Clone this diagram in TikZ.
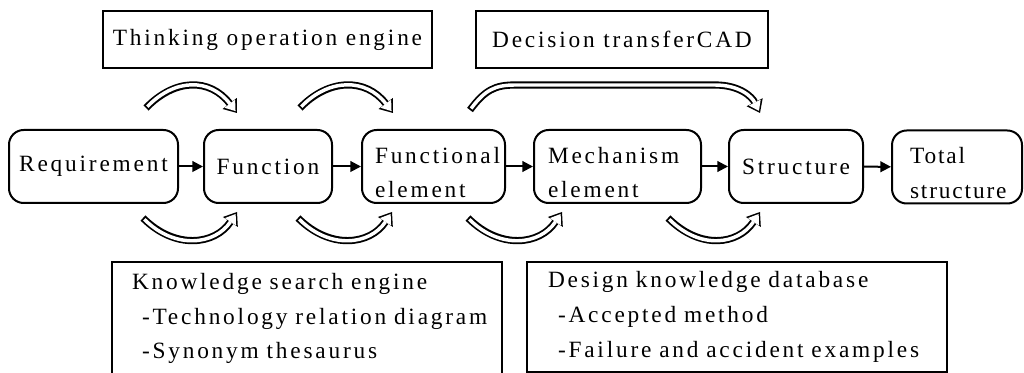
\documentclass[tikz,border=0pt]{standalone}
\usepackage{fontspec}
\setmainfont{Liberation Serif}[LetterSpace=12]
\usetikzlibrary{arrows.meta}
\begin{document}
\begin{tikzpicture}[x=0.75pt,y=-0.75pt,
  every node/.style={font=\fontsize{17.5}{26}\selectfont},
  stage/.style={draw, line width=1.5pt, rounded corners=11pt,
    minimum height=54.75pt, inner sep=0pt, align=center},
  twoline/.style={align=left, inner xsep=#1, text width=\stagew-2*#1},
  tool/.style={draw, line width=1.5pt, minimum height=42.75pt, inner sep=0pt},
  base/.style={draw, line width=1.5pt, inner ysep=0pt, align=left},
  flow/.style={line width=1.5pt, -{Triangle[length=8pt,width=8pt]}},
  hollow/.style={line width=2.6pt, white, shorten <=1.4pt, shorten >=1.8pt,
    -{Triangle[length=7pt,width=10pt,line width=0pt]},
    preaction={draw, black, line width=5.4pt, shorten <=0pt, shorten >=0pt,
      -{Triangle[length=9pt,width=13.5pt,line width=0pt]}}},
]
\useasboundingbox (0,0) rectangle (1024,373);
\clip (0,0) rectangle (1024,373);
\newcommand\topline{\rule{0pt}{21pt}}

% engines above the chain
\node[tool, minimum width=246.75pt] (think) at (267.5,39.5) {Thinking operation engine};
\node[tool, minimum width=219pt] (decide) at (622,39.5) {Decision transferCAD};

% the design chain
\node[stage, minimum width=126.75pt] (req) at (93.5,166.5) {Requirement};
\node[stage, minimum width=96pt] (fun) at (268,166.5) {Function};
\def\stagew{107.25pt}
\node[stage, twoline=9.75pt, minimum width=\stagew] (fel) at (433.5,166.5) {\topline Functional\\element};
\def\stagew{125.25pt}
\node[stage, twoline=10.5pt, minimum width=\stagew] (mel) at (617.5,166.5) {\topline Mechanism\\element};
\node[stage, minimum width=100.5pt] (str) at (796,166.5) {Structure};
\def\stagew{97.5pt}
\node[stage, twoline=13.5pt, minimum width=\stagew] (tot) at (957,167)
  {\addfontfeature{LetterSpace=8}\topline Total\\structure};

\draw[flow] (req) -- (fun);
\draw[flow] (fun) -- (fel);
\draw[flow] (fel) -- (mel);
\draw[flow] (mel) -- (str);
\draw[flow] (str) -- (tot);

% knowledge sources below the chain
\node[base, minimum width=292.5pt, minimum height=84.75pt, inner xsep=15pt, text width=262.5pt] (kse) at (307,318.5)
  {Knowledge search engine\\\hspace*{7.5pt}-Technology relation diagram\\\hspace*{7.5pt}-Synonym thesaurus};
\node[base, minimum width=315pt, minimum height=82.5pt, inner xsep=15.75pt, text width=283.5pt] (dkd) at (737,317)
  {Design knowledge database\\\hspace*{7.5pt}-Accepted method\\\hspace*{7.5pt}-Failure and accident examples};

% hollow transfer arrows, upper side
\coordinate (u1s) at (146,108); \coordinate (u1e) at (237,113);
\coordinate (u2s) at (300,108); \coordinate (u2e) at (393,113);
\coordinate (u3s) at (470,110); \coordinate (u3e) at (760,113);
\draw[hollow] (u1s) .. controls +(29,-30) and +(-27,-35) .. (u1e);
\draw[hollow] (u2s) .. controls +(29,-30) and +(-27,-35) .. (u2e);
\draw[hollow] (u3s) .. controls +(15,-20) and +(-20,0) .. (515,85) -- (715,85)
  .. controls +(25,0) and +(-8,-16) .. (u3e);

% hollow transfer arrows, lower side
\coordinate (l1s) at (143,218); \coordinate (l1e) at (237,212);
\coordinate (l2s) at (298,218); \coordinate (l2e) at (392,212);
\coordinate (l3s) at (468,218); \coordinate (l3e) at (562,212);
\coordinate (l4s) at (668,218); \coordinate (l4e) at (760,212);
\foreach \a in {1,2,3,4}
  \draw[hollow] (l\a s) .. controls +(32,32) and +(-22,33) .. (l\a e);
\end{tikzpicture}
\end{document}
